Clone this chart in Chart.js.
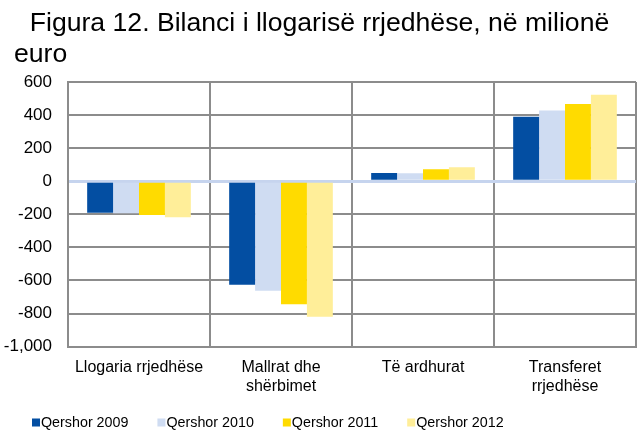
<!DOCTYPE html>
<html>
<head>
<meta charset="utf-8">
<script src="https://cdn.jsdelivr.net/npm/chart.js@4/dist/chart.umd.min.js"></script>
<style>
html,body{margin:0;padding:0;background:#fff;}
#wrap{width:637px;height:432px;position:relative;}
</style>
</head>
<body>
<div id="wrap"><canvas id="c" width="637" height="432"></canvas></div>
<script>
const titleLines = ['Figura 12. Bilanci i llogarisë rrjedhëse, në milionë', 'euro'];
const categories = [['Llogaria rrjedhëse'], ['Mallrat dhe', 'shërbimet'], ['Të ardhurat'], ['Transferet', 'rrjedhëse']];
const seriesNames = ['Qershor 2009', 'Qershor 2010', 'Qershor 2011', 'Qershor 2012'];
const q2009 = [-191, -626, 50, 390];
const q2010 = [-193, -663, 48, 428];
const q2011 = [-204, -744, 72, 467];
const q2012 = [-218, -819, 84, 523];
const seriesColors = ['#034EA2', '#CFDCF2', '#FFDB00', '#FFEE99'];
const yMin = -1000, yMax = 600, yStep = 200;

const FONT = "'Liberation Sans', Arial, sans-serif";

const titlePlugin = {
  id: 'twoLineTitle',
  afterDraw(chart) {
    const ctx = chart.ctx;
    ctx.save();
    ctx.fillStyle = '#000';
    ctx.font = '26.6px ' + FONT;
    ctx.textBaseline = 'alphabetic';
    ctx.textAlign = 'center';
    ctx.fillText(titleLines[0], chart.width / 2 + 1, 31);
    ctx.textAlign = 'left';
    ctx.fillText(titleLines[1], 14, 62);
    ctx.restore();
  }
};

const legendPlugin = {
  id: 'bottomLegend',
  afterDraw(chart) {
    const ctx = chart.ctx;
    ctx.save();
    ctx.font = '14.3px ' + FONT;
    ctx.textBaseline = 'middle';
    ctx.textAlign = 'left';
    let x = 32;
    const cy = 423;
    chart.data.datasets.forEach((ds) => {
      ctx.fillStyle = ds.backgroundColor;
      ctx.fillRect(x, cy - 4.5, 8, 8);
      ctx.fillStyle = '#000';
      ctx.fillText(ds.label, x + 9, cy);
      x += 9 + ctx.measureText(ds.label).width + 29;
    });
    ctx.restore();
  }
};

const datasets = [q2009, q2010, q2011, q2012].map((d, i) => ({
  label: seriesNames[i],
  data: d,
  backgroundColor: seriesColors[i],
  borderWidth: 0,
  categoryPercentage: 0.73,
  barPercentage: 1.0
}));

new Chart(document.getElementById('c'), {
  type: 'bar',
  data: { labels: categories, datasets },
  plugins: [titlePlugin, legendPlugin],
  options: {
    responsive: false,
    animation: false,
    devicePixelRatio: 1,
    layout: { padding: { top: 82, left: 4, right: 1, bottom: 25 } },
    plugins: {
      title: { display: false },
      tooltip: { enabled: false },
      legend: { display: false }
    },
    scales: {
      x: {
        grid: { color: '#8c8c8c', lineWidth: 2, drawTicks: false, offset: true },
        border: { color: '#8c8c8c', width: 2 },
        ticks: { color: '#000', font: { family: FONT, size: 16 }, padding: 11, maxRotation: 0, autoSkip: false }
      },
      y: {
        min: yMin,
        max: yMax,
        afterFit: (scale) => { scale.width = 64; },
        grid: {
          color: (c) => (c.tick && c.tick.value === 0 ? '#C6D4EE' : '#8c8c8c'),
          lineWidth: (c) => (c.tick && c.tick.value === 0 ? 3 : 2),
          drawTicks: false
        },
        border: { color: '#8c8c8c', width: 2 },
        ticks: {
          stepSize: yStep,
          color: '#000',
          padding: 16,
          font: { family: FONT, size: 17 },
          callback: (v) => v.toLocaleString('en-US')
        }
      }
    }
  }
});
</script>
</body>
</html>
